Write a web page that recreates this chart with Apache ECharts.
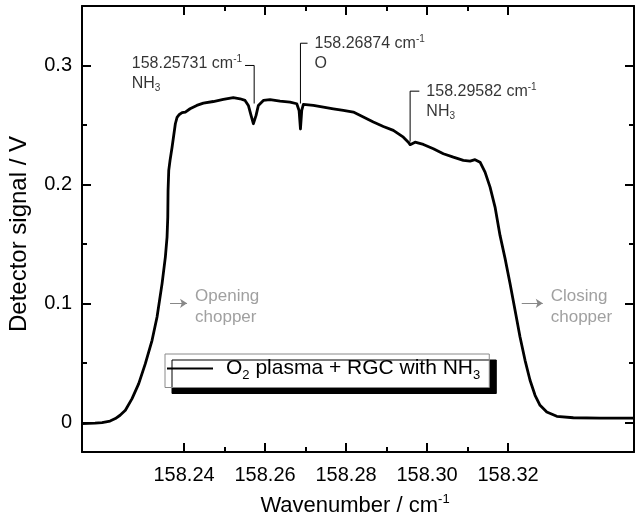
<!DOCTYPE html>
<html>
<head>
<meta charset="utf-8">
<script src="https://cdn.jsdelivr.net/npm/echarts@6/dist/echarts.min.js"></script>
<style>
  html, body { margin: 0; padding: 0; background: #fff; }
  #chart { width: 635px; height: 524px; }
</style>
</head>
<body>
<div id="chart"></div>
<script>
// Transmitted laser intensity across one chopper window (O2 plasma + RGC with NH3)
const wavenumber = [
  158.21481, 158.21802, 158.21975, 158.22173, 158.22304, 158.22420, 158.22551, 158.22716,
  158.22881, 158.23044, 158.23210, 158.23333, 158.23457, 158.23538, 158.23580, 158.23598,
  158.23605, 158.23622, 158.23654, 158.23704, 158.23785, 158.23827, 158.23884, 158.23951,
  158.24032, 158.24148, 158.24314, 158.24477, 158.24723, 158.24970, 158.25217, 158.25383,
  158.25506, 158.25588, 158.25654, 158.25711, 158.25731, 158.25778, 158.25835, 158.25958,
  158.26123, 158.26370, 158.26617, 158.26783, 158.26840, 158.26874, 158.26906, 158.26946,
  158.27193, 158.27440, 158.27686, 158.27933, 158.28180, 158.28427, 158.28674, 158.28921,
  158.29168, 158.29415, 158.29538, 158.29582, 158.29704, 158.29909, 158.30156, 158.30403,
  158.30649, 158.30896, 158.31062, 158.31185, 158.31309, 158.31432, 158.31556, 158.31679,
  158.31802, 158.31926, 158.32049, 158.32173, 158.32296, 158.32420, 158.32543, 158.32667,
  158.32790, 158.32956, 158.33203, 158.33612, 158.34272, 158.35111
];
const signal = [
  -0.0011, -0.0008, -0.0003, 0.0010, 0.0031, 0.0059, 0.0101, 0.0199,
  0.0325, 0.0493, 0.0689, 0.0885, 0.1166, 0.1389, 0.1557, 0.1725,
  0.1950, 0.2118, 0.2202, 0.2313, 0.2510, 0.2563, 0.2588, 0.2603,
  0.2608, 0.2636, 0.2664, 0.2683, 0.2697, 0.2714, 0.2729, 0.2720,
  0.2706, 0.2664, 0.2580, 0.2510, 0.2504, 0.2580, 0.2664, 0.2706,
  0.2712, 0.2700, 0.2692, 0.2678, 0.2622, 0.2466, 0.2622, 0.2672,
  0.2664, 0.2650, 0.2636, 0.2622, 0.2608, 0.2566, 0.2524, 0.2487,
  0.2454, 0.2397, 0.2355, 0.2334, 0.2355, 0.2336, 0.2300, 0.2258,
  0.2229, 0.2202, 0.2196, 0.2208, 0.2187, 0.2103, 0.1977, 0.1809,
  0.1571, 0.1378, 0.1166, 0.0941, 0.0717, 0.0521, 0.0353, 0.0227,
  0.0143, 0.0087, 0.0050, 0.0038, 0.0034, 0.0034
];

// Axis ranges and tick values
const xRange = [158.2148, 158.3511];
const yRange = [-0.025, 0.35];
const xTicks = [158.24, 158.26, 158.28, 158.30, 158.32];
const xMinorTicks = [158.25, 158.27, 158.29, 158.31];
const yTicks = [0, 0.1, 0.2, 0.3];
const yMinorTicks = [0.05, 0.15, 0.25];

// Absorption lines marked on the trace
const peakWavenumbers = [158.25731, 158.26874, 158.29582];
const peakSpecies = ['NH3', 'O', 'NH3'];
const leaderTop = [0.300, 0.3187, 0.2784];
const leaderBottom = [0.268, 0.268, 0.236];
const leaderArmEnd = [158.25506, 158.27049, 158.2981];

// Chopper edge notes (arrow start / end wavenumbers, arrow height)
const chopperNotes = ['Opening\nchopper', 'Closing\nchopper'];
const chopperArrowFrom = [158.23654, 158.32338];
const chopperArrowTo = [158.24074, 158.32857];
const chopperArrowLevel = [0.1, 0.1];

const seriesName = 'O2 plasma + RGC with NH3';
const FONT = '"Liberation Sans", Arial, Helvetica, sans-serif';

const chart = echarts.init(document.getElementById('chart'), null, { renderer: 'canvas' });

function speciesRich(s) {
  const m = s.match(/^([A-Za-z]+)(\d*)$/);
  return m[2] ? '{t|' + m[1] + '}{sub|' + m[2] + '}' : '{t|' + m[1] + '}';
}

const annotRich = {
  t: { fontSize: 16, fontFamily: FONT, color: '#000', lineHeight: 20, align: 'left' },
  sup: { fontSize: 10, fontFamily: FONT, color: '#000', lineHeight: 20, verticalAlign: 'top', padding: [1, 0, 0, 0], align: 'left' },
  sub: { fontSize: 10, fontFamily: FONT, color: '#000', lineHeight: 20, verticalAlign: 'bottom', align: 'left' }
};

function baseX(extra) {
  return Object.assign({
    type: 'value', min: xRange[0], max: xRange[1], gridIndex: 0,
    splitLine: { show: false },
    axisLine: { show: false, onZero: false },
    axisTick: { show: false },
    axisLabel: { show: false }
  }, extra);
}
function baseY(extra) {
  return Object.assign({
    type: 'value', min: yRange[0], max: yRange[1], gridIndex: 0,
    splitLine: { show: false },
    axisLine: { show: false, onZero: false },
    axisTick: { show: false },
    axisLabel: { show: false }
  }, extra);
}
const frameLine = { show: true, onZero: false, lineStyle: { color: '#000', width: 2 } };
const majorTick = (vals) => ({ show: true, inside: true, length: 9, customValues: vals, lineStyle: { color: '#000', width: 2 } });
const minorTick = (vals) => ({ show: true, inside: true, length: 5, customValues: vals, lineStyle: { color: '#000', width: 2 } });

const xAxes = [
  baseX({
    position: 'bottom',
    axisLine: frameLine,
    axisTick: majorTick(xTicks),
    axisLabel: {
      show: true, customValues: xTicks, margin: 13,
      fontSize: 20, fontFamily: FONT, color: '#000',
      formatter: (v) => v.toFixed(2)
    },
    name: '{t|Wavenumber / cm}{sup|-1}',
    nameLocation: 'middle', nameGap: 41,
    nameTextStyle: {
      padding: [0, 6, 0, 0],
      rich: {
        t: { fontSize: 22, fontFamily: FONT, color: '#000', lineHeight: 26 },
        sup: { fontSize: 13, fontFamily: FONT, color: '#000', lineHeight: 26, verticalAlign: 'top' }
      }
    }
  }),
  baseX({ position: 'bottom', axisTick: minorTick(xMinorTicks) }),
  baseX({ position: 'top', axisLine: frameLine, axisTick: majorTick(xTicks) }),
  baseX({ position: 'top', axisTick: minorTick(xMinorTicks) })
];
const yAxes = [
  baseY({
    position: 'left',
    axisLine: frameLine,
    axisTick: majorTick(yTicks),
    axisLabel: {
      show: true, customValues: yTicks, margin: 10,
      fontSize: 20, fontFamily: FONT, color: '#000',
      formatter: (v) => (v === 0 ? '0' : v.toFixed(1))
    },
    name: 'Detector signal / V',
    nameLocation: 'middle', nameGap: 51,
    nameTextStyle: { fontSize: 24, fontFamily: FONT, color: '#000', padding: [0, 10, 0, 0] }
  }),
  baseY({ position: 'left', axisTick: minorTick(yMinorTicks) }),
  baseY({ position: 'right', axisLine: frameLine, axisTick: majorTick(yTicks) }),
  baseY({ position: 'right', axisTick: minorTick(yMinorTicks) })
];

// Leader lines: short horizontal arm then vertical drop onto the absorption dip
const leaderSeries = peakWavenumbers.map((p, i) => ({
  type: 'line', silent: true, symbol: 'none', z: 4,
  lineStyle: { color: '#000', width: 1 },
  data: [[leaderArmEnd[i], leaderTop[i]], [p, leaderTop[i]], [p, leaderBottom[i]]]
}));

// Text for each marked line
const peakLabelSeries = {
  type: 'scatter', silent: true, symbolSize: 0, z: 5,
  data: peakWavenumbers.map((p, i) => {
    const onLeft = leaderArmEnd[i] < p;
    return {
      value: [leaderArmEnd[i], leaderTop[i]],
      label: {
        show: true,
        position: onLeft ? 'left' : 'right',
        distance: onLeft ? 3 : 7,
        offset: [0, onLeft ? 8 : 10],
        formatter: '{t|' + p.toFixed(5) + ' cm}{sup|-1}\n' + speciesRich(peakSpecies[i]),
        rich: annotRich
      }
    };
  })
};

// Chopper notes with small grey arrows
const chopperSeries = {
  type: 'scatter', silent: true, symbolSize: 0, z: 5,
  data: chopperNotes.map((txt, i) => ({
    value: [chopperArrowTo[i], chopperArrowLevel[i]],
    label: {
      show: true, position: 'right', distance: 8, offset: [0, 3],
      formatter: txt, fontSize: 17, lineHeight: 21, fontFamily: FONT, color: '#888888'
    }
  })),
  markLine: {
    silent: true, animation: false,
    symbol: ['none', 'arrow'], symbolSize: [7, 7],
    label: { show: false },
    lineStyle: { color: '#888888', width: 1, type: 'solid' },
    data: chopperNotes.map((_, i) => [
      { coord: [chopperArrowFrom[i], chopperArrowLevel[i]] },
      { coord: [chopperArrowTo[i], chopperArrowLevel[i]] }
    ])
  }
};

const option = {
  animation: false,
  backgroundColor: '#fff',
  textStyle: { fontFamily: FONT },
  grid: { left: 82, right: 1, top: 6, bottom: 72, containLabel: false, outerBoundsMode: 'none' },
  xAxis: xAxes,
  yAxis: yAxes,
  legend: {
    data: [seriesName],
    selectedMode: false,
    left: 165, top: 354,
    icon: 'rect', itemWidth: 46, itemHeight: 2,
    padding: [4, 9, 6, 2],
    backgroundColor: '#fff',
    borderColor: '#8a8a8a', borderWidth: 1, borderRadius: 0,
    shadowColor: '#000', shadowBlur: 0, shadowOffsetX: 7, shadowOffsetY: 6,
    formatter: () => '{a|O}{b|2}{a| plasma + RGC with NH}{b|3}',
    textStyle: {
      padding: [0, 0, 0, 8],
      rich: {
        a: { fontSize: 21, fontFamily: FONT, color: '#000', lineHeight: 26 },
        b: { fontSize: 13, fontFamily: FONT, color: '#000', lineHeight: 26, verticalAlign: 'bottom' }
      }
    }
  },
  series: [
    {
      name: seriesName,
      type: 'line',
      color: '#000',
      symbol: 'none',
      showSymbol: false,
      z: 3,
      lineStyle: { color: '#000', width: 2.8, join: 'round' },
      data: wavenumber.map((w, i) => [w, signal[i]])
    }
  ].concat(leaderSeries, [peakLabelSeries, chopperSeries])
};

chart.setOption(option);
</script>
</body>
</html>
